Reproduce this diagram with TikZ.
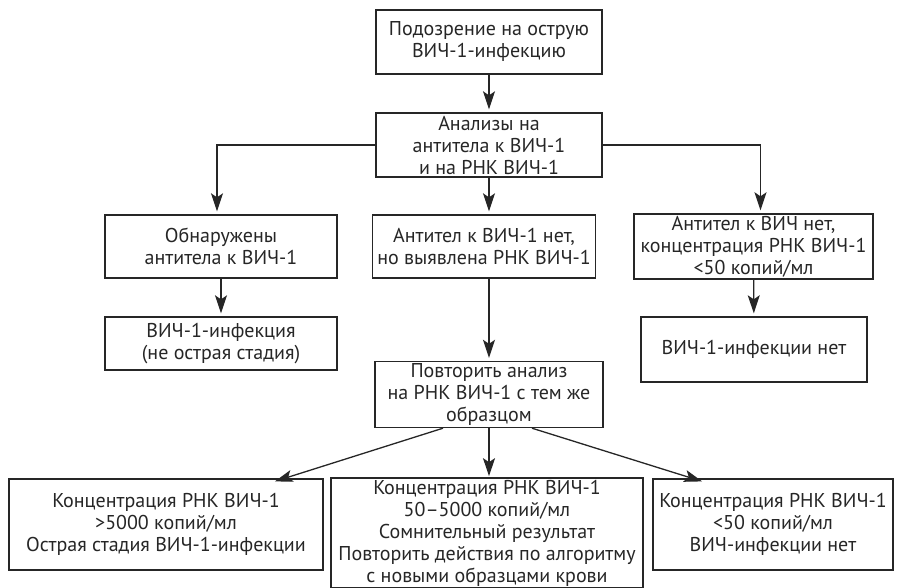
\documentclass[tikz,border=0pt]{standalone}
\usepackage{fontspec}
\setmainfont{PT Sans}
\usetikzlibrary{arrows.meta}

\tikzset{
    box/.style={draw=black!85, line width=1.4pt, align=center, inner sep=2pt,
        font=\fontsize{20}{22}\selectfont, text=black!85},
    link/.style={draw=black!85, line width=1.3pt, ->, shorten >=3pt}
}

\begin{document}
\begin{tikzpicture}[x=1pt, y=-1pt, >={Stealth[length=18pt, width=12pt, inset=4pt]}]
        \useasboundingbox (0, 0) rectangle (897, 588);

        \node[box, minimum width=226pt, minimum height=64pt] (susp) at (489, 42)
            {Подозрение на острую\\ВИЧ-1-инфекцию};
        \node[box, minimum width=226pt, minimum height=64pt] (tests) at (489, 145)
            {Анализы на\\антитела к ВИЧ-1\\и на РНК ВИЧ-1};
        \node[box, minimum width=232pt, minimum height=63pt] (antib) at (221, 246.5)
            {Обнаружены\\антитела к ВИЧ-1};
        \node[box, minimum width=223pt, minimum height=63pt] (rna) at (484, 246.5)
            {Антител к ВИЧ-1 нет,\\но выявлена РНК ВИЧ-1};
        \node[box, minimum width=239pt, minimum height=65pt] (noab) at (753.5, 246.5)
            {Антител к ВИЧ нет,\\концентрация РНК ВИЧ-1\\<50 копий/мл};
        \node[box, minimum width=232pt, minimum height=53pt] (chronic) at (221, 343.5)
            {ВИЧ-1-инфекция\\(не острая стадия)};
        \node[box, minimum width=226pt, minimum height=65pt] (neg) at (754, 349.5)
            {ВИЧ-1-инфекции нет};
        \node[box, minimum width=228pt, minimum height=65pt] (retest) at (489, 394.5)
            {Повторить анализ\\на РНК ВИЧ-1 с тем же\\образцом};
        \node[box, minimum width=314pt, minimum height=91pt] (acute) at (166, 524.5)
            {Концентрация РНК ВИЧ-1\\>5000 копий/мл\\Острая стадия ВИЧ-1-инфекции};
        \node[box, minimum width=312pt, minimum height=107pt] (doubt) at (487, 533)
            {Концентрация РНК ВИЧ-1\\50–5000 копий/мл\\Сомнительный результат\\Повторить действия по алгоритму\\с новыми образцами крови};
        \node[box, minimum width=240pt, minimum height=91pt] (low) at (773, 524.5)
            {Концентрация РНК ВИЧ-1\\<50 копий/мл\\ВИЧ-инфекции нет};

        % first steps
        \draw[link] (susp) -- (tests);
        \draw[link] (tests.west) -| ([xshift=-4pt]antib.north);
        \draw[link] (tests.south) -- (tests.south |- rna.north);
        \draw[link] (tests.east) -| ([xshift=7pt]noab.north);

        \draw[link] (antib) -- (chronic);
        \draw[link] (noab) -- (neg);
        \draw[link] (rna.south -| retest.north) -- (retest.north);

        % repeated test
        \draw[link] ([xshift=-46pt]retest.south) -- ([xshift=106pt, yshift=-4pt]acute.north);
        \draw[link, shorten >=1pt] (retest.south) -- (retest.south |- doubt.north);
        \draw[link] ([xshift=43pt]retest.south) -- ([xshift=-68pt, yshift=-4pt]low.north);
    \end{tikzpicture}
\end{document}
